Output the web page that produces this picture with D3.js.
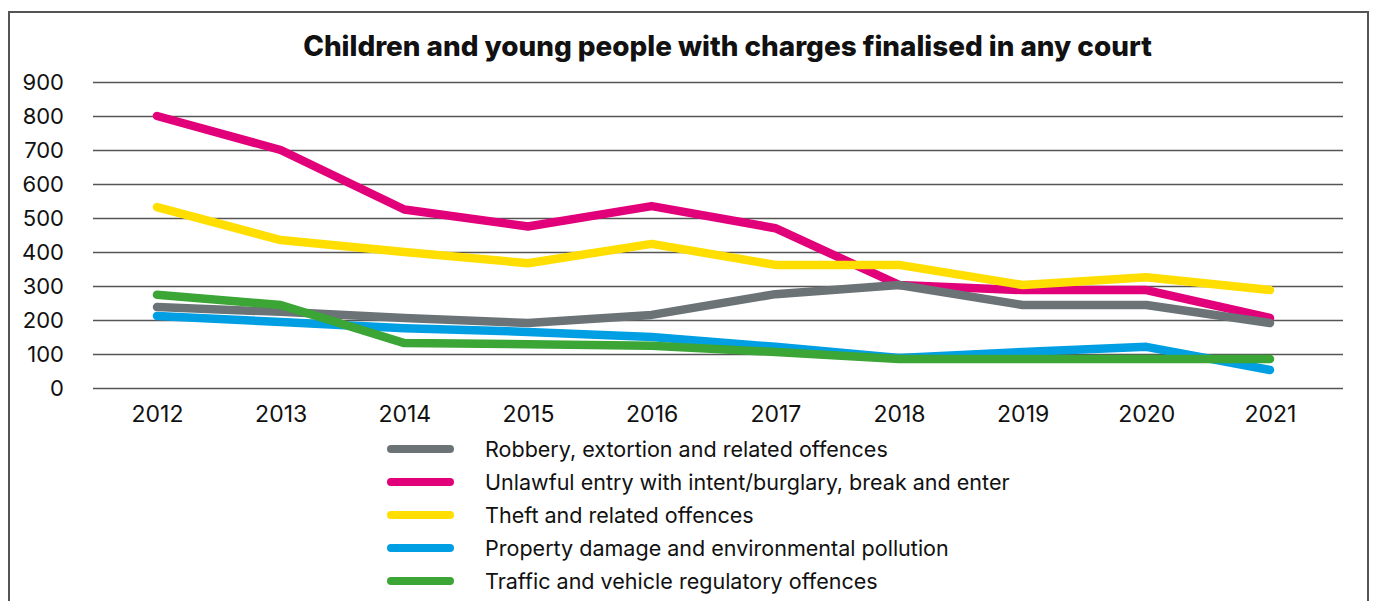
<!DOCTYPE html>
<html><head><meta charset="utf-8">
<script src="https://cdn.jsdelivr.net/npm/d3@7/dist/d3.min.js"></script>
<style>body{margin:0;background:#fff;} text{font-family:Inter, Lato, sans-serif;}</style>
</head><body><svg id="c" width="1375" height="601"></svg>
<script>
const years = ["2012","2013","2014","2015","2016","2017","2018","2019","2020","2021"];
const yTicks = [0,100,200,300,400,500,600,700,800,900];
const seriesNames = [
  "Robbery, extortion and related offences",
  "Unlawful entry with intent/burglary, break and enter",
  "Theft and related offences",
  "Property damage and environmental pollution",
  "Traffic and vehicle regulatory offences"
];
const seriesColors = ["#6b7377","#e2007a","#ffde00","#009fe3","#3ba535"];
const robbery  = [238,224,206,191,215,276,303,244,244,191];
const unlawful = [800,700,525,475,535,470,303,288,288,206];
const theft    = [532,435,400,367,424,362,362,303,326,288];
const property = [212,194,176,165,150,121,88,106,121,53];
const traffic  = [274,244,132,129,124,106,85,85,85,85];
const seriesValues = [robbery, unlawful, theft, property, traffic];
const drawOrder = [3,1,2,0,4];

const svg = d3.select("#c");
svg.append("path").attr("d","M9,601 L9,12 L1368,12 L1368,601")
  .attr("fill","none").attr("stroke","#555").attr("stroke-width",2);

const x = d3.scalePoint().domain(years).range([157,1270]);
const y = d3.scaleLinear().domain([0,900]).range([388,82]);

function fit(sel, target){
  const s = +sel.attr("font-size");
  const w = sel.node().getComputedTextLength();
  sel.attr("font-size", s*target/w);
}

const title = svg.append("text").attr("x",727.5).attr("y",56).attr("text-anchor","middle")
  .attr("font-size",25).attr("font-weight",800).attr("fill","#111")
  .text("Children and young people with charges finalised in any court");
fit(title, 849);

const gy = svg.append("g").attr("transform","translate(1343,0)").call(d3.axisRight(y).tickValues(yTicks).tickSize(-1250).tickFormat(""));
gy.select(".domain").remove();
gy.selectAll(".tick line").attr("stroke","#555").attr("stroke-width",1.5);
const gl = svg.append("g").attr("transform","translate(64,0)").call(d3.axisLeft(y).tickValues(yTicks).tickSize(0).tickPadding(0).tickFormat(d3.format("d")));
gl.select(".domain").remove();
gl.selectAll(".tick text").attr("font-size",22).attr("fill","#111").attr("font-family","Lato, sans-serif");

const gx = svg.append("g").attr("transform","translate(0,401)").call(d3.axisBottom(x).tickSize(0).tickPadding(0));
gx.select(".domain").remove();
gx.selectAll(".tick text").attr("font-size",23).attr("fill","#111").attr("dy","0.9em").attr("font-family","Lato, sans-serif");

const line = d3.line().x((d,i)=>x(years[i])).y(d=>y(d));
drawOrder.forEach(k=>{
  svg.append("path").datum(seriesValues[k]).attr("d",line)
    .attr("fill","none").attr("stroke",seriesColors[k]).attr("stroke-width",8.5)
    .attr("stroke-linecap","round").attr("stroke-linejoin","round");
});

const lg = svg.append("g");
let legendSize = null;
seriesNames.forEach((n,i)=>{
  const cy = 449 + i*33;
  lg.append("line").attr("x1",391).attr("x2",450).attr("y1",cy).attr("y2",cy)
    .attr("stroke",seriesColors[i]).attr("stroke-width",8).attr("stroke-linecap","round");
  const t = lg.append("text").attr("x",485).attr("y",cy).attr("dy","0.35em")
    .attr("font-size",20).attr("fill","#111").text(n);
  if(i===0){ fit(t,403); legendSize = +t.attr("font-size"); }
  else t.attr("font-size", legendSize);
});
</script></body></html>
